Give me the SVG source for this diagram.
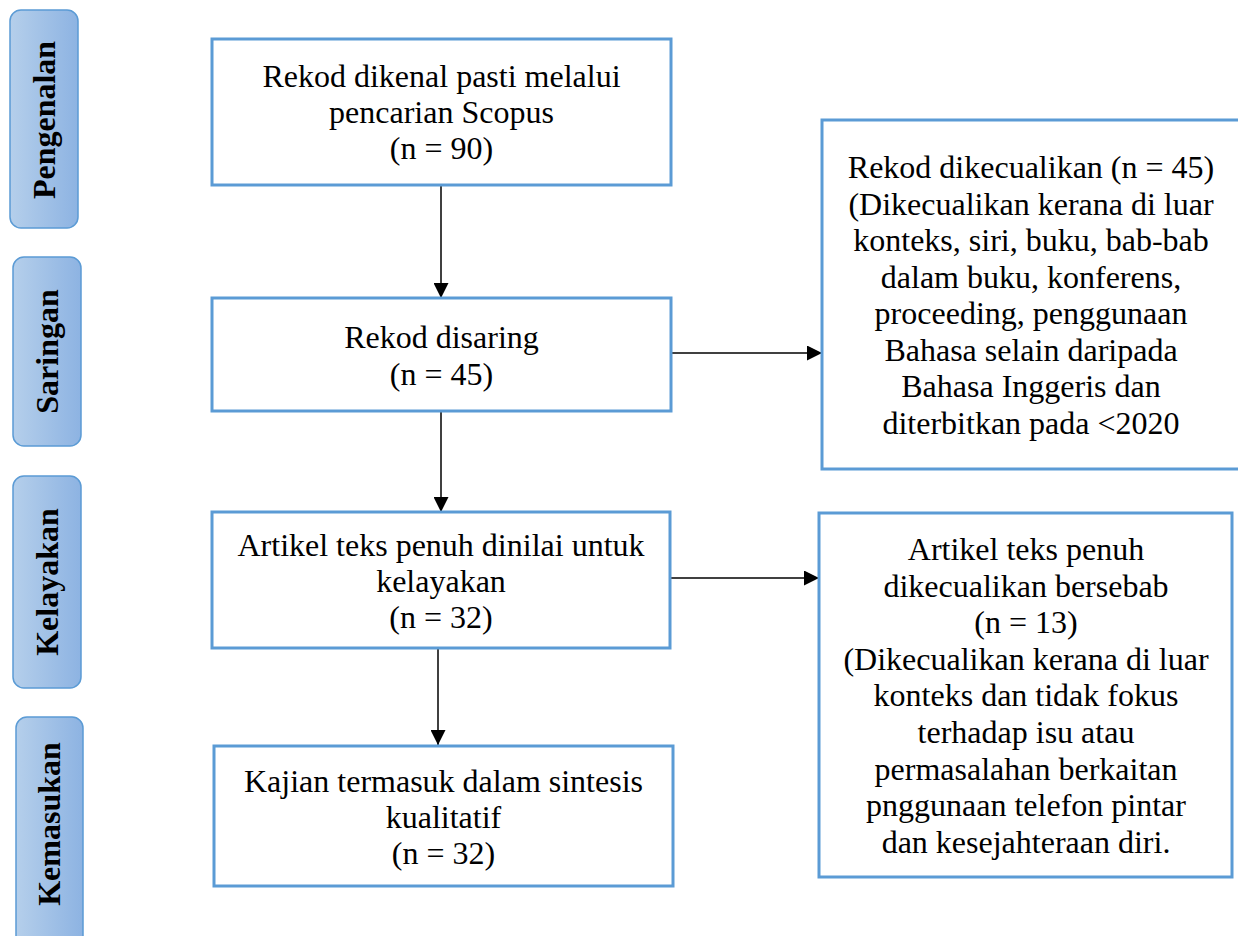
<svg xmlns="http://www.w3.org/2000/svg" width="1238" height="936" viewBox="0 0 1238 936">
  <style>
    .box { fill: #ffffff; stroke: #5b9bd5; stroke-width: 3; }
    .side { fill: url(#sideGrad); stroke: #5b9bd5; stroke-width: 1.5; }
    .t { font-family: "Liberation Serif", "Times New Roman", serif; font-size: 32px; fill: #000; text-anchor: middle; }
    .lbl { font-family: "Liberation Serif", "Times New Roman", serif; font-size: 32px; font-weight: bold; fill: #000; text-anchor: middle; }
    .conn { stroke: #000; stroke-width: 1.5; fill: none; marker-end: url(#arrow); }
  </style>
  <defs>
    <linearGradient id="sideGrad" x1="0" y1="0" x2="1" y2="0">
      <stop offset="0" stop-color="#b5cfeb"/>
      <stop offset="1" stop-color="#8db3e2"/>
    </linearGradient>
    <marker id="arrow" markerUnits="userSpaceOnUse" markerWidth="15" markerHeight="15" refX="15" refY="7.5" orient="auto">
      <path d="M0,0 L15,7.5 L0,15 Z" fill="#000"/>
    </marker>
  </defs>
  <rect width="1238" height="936" fill="#ffffff"/>

  <g id="stage-pengenalan">
    <rect class="side" x="10" y="10" width="68" height="218" rx="11"/>
    <text class="lbl" transform="translate(54.5,120) rotate(-90)">Pengenalan</text>
  </g>
  <g id="stage-saringan">
    <rect class="side" x="13" y="257" width="68" height="189" rx="11"/>
    <text class="lbl" transform="translate(57.5,351.5) rotate(-90)">Saringan</text>
  </g>
  <g id="stage-kelayakan">
    <rect class="side" x="13" y="476" width="68" height="212" rx="11"/>
    <text class="lbl" transform="translate(57.5,582) rotate(-90)">Kelayakan</text>
  </g>
  <g id="stage-kemasukan">
    <rect class="side" x="16" y="717" width="67" height="232" rx="11"/>
    <text class="lbl" transform="translate(60,824) rotate(-90)">Kemasukan</text>
  </g>

  <g id="connectors">
    <line class="conn" x1="441" y1="185" x2="441" y2="298"/>
    <line class="conn" x1="441" y1="411" x2="441" y2="512"/>
    <line class="conn" x1="438" y1="648" x2="438" y2="745"/>
    <line class="conn" x1="671" y1="353" x2="822" y2="353"/>
    <line class="conn" x1="670" y1="578" x2="819" y2="578"/>
  </g>

  <g id="node-identified">
    <rect class="box" x="212" y="39" width="459" height="146"/>
    <text class="t" x="441.5" y="87">Rekod dikenal pasti melalui</text>
    <text class="t" x="441.5" y="123">pencarian Scopus</text>
    <text class="t" x="441.5" y="159">(n = 90)</text>
  </g>

  <g id="node-screened">
    <rect class="box" x="212" y="298" width="459" height="113"/>
    <text class="t" x="441.5" y="348">Rekod disaring</text>
    <text class="t" x="441.5" y="384.5">(n = 45)</text>
  </g>

  <g id="node-eligibility">
    <rect class="box" x="212" y="512" width="458" height="136"/>
    <text class="t" x="441" y="556">Artikel teks penuh dinilai untuk</text>
    <text class="t" x="441" y="592">kelayakan</text>
    <text class="t" x="441" y="628">(n = 32)</text>
  </g>

  <g id="node-included">
    <rect class="box" x="214" y="746" width="459" height="140"/>
    <text class="t" x="443.5" y="792">Kajian termasuk dalam sintesis</text>
    <text class="t" x="443.5" y="828">kualitatif</text>
    <text class="t" x="443.5" y="864">(n = 32)</text>
  </g>

  <g id="node-excluded-records">
    <rect class="box" x="822" y="120" width="420" height="349"/>
    <text class="t" x="1031" y="178">Rekod dikecualikan (n = 45)</text>
    <text class="t" x="1031" y="214.5">(Dikecualikan kerana di luar</text>
    <text class="t" x="1031" y="251">konteks, siri, buku, bab-bab</text>
    <text class="t" x="1031" y="287.5">dalam buku, konferens,</text>
    <text class="t" x="1031" y="324">proceeding, penggunaan</text>
    <text class="t" x="1031" y="360.5">Bahasa selain daripada</text>
    <text class="t" x="1031" y="397">Bahasa Inggeris dan</text>
    <text class="t" x="1031" y="433.5">diterbitkan pada &lt;2020</text>
  </g>

  <g id="node-excluded-articles">
    <rect class="box" x="819" y="513" width="413" height="364"/>
    <text class="t" x="1026" y="560">Artikel teks penuh</text>
    <text class="t" x="1026" y="596.6">dikecualikan bersebab</text>
    <text class="t" x="1026" y="633">(n = 13)</text>
    <text class="t" x="1026" y="669.8">(Dikecualikan kerana di luar</text>
    <text class="t" x="1026" y="706.4">konteks dan tidak fokus</text>
    <text class="t" x="1026" y="743">terhadap isu atau</text>
    <text class="t" x="1026" y="779.6">permasalahan berkaitan</text>
    <text class="t" x="1026" y="816">pnggunaan telefon pintar</text>
    <text class="t" x="1026" y="853">dan kesejahteraan diri.</text>
  </g>
</svg>
